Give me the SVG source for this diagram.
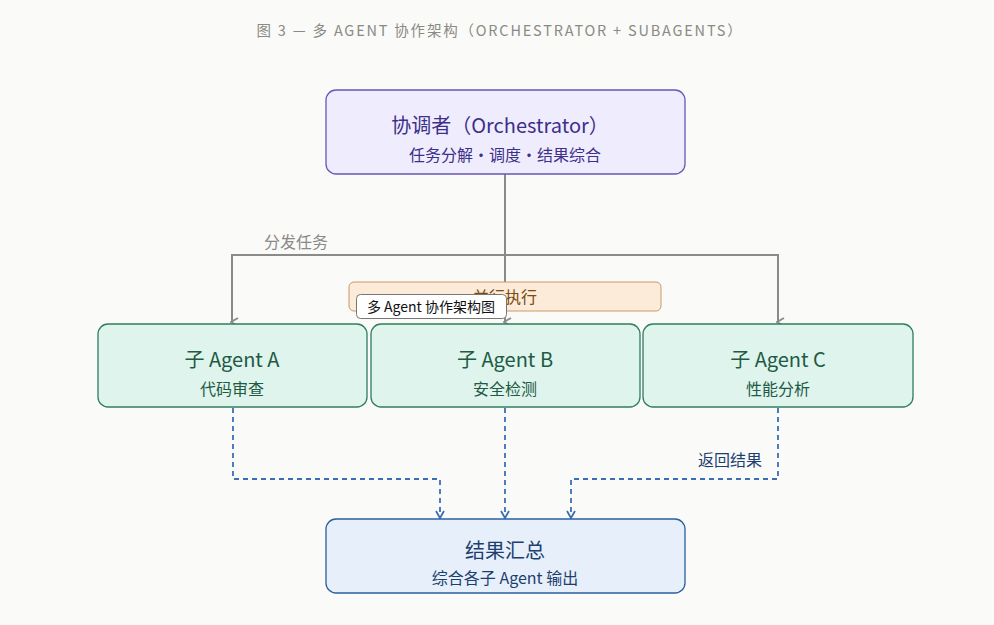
<svg xmlns="http://www.w3.org/2000/svg" width="994" height="625" viewBox="0 0 994 625">
<style>
text{font-family:"Noto Sans CJK SC","Noto Sans",sans-serif;text-anchor:middle}
.t{font-size:20px}.s{font-size:16px}
.ag rect{fill:#def4ec;stroke:#2f7d5f;stroke-width:1.3}
.ag text{fill:#1e5a44}
.solid{fill:none;stroke:#8a8a8a;stroke-width:2}
.dash{fill:none;stroke:#3a6fb5;stroke-width:1.8;stroke-dasharray:5 4}
</style>
<defs>
<marker id="ag" markerWidth="10" markerHeight="10" refX="5" refY="8" orient="auto-start-reverse" markerUnits="userSpaceOnUse" viewBox="0 0 10 10"><path d="M1 2 L5 9 L9 2" fill="none" stroke="#8a8a8a" stroke-width="1.8"/></marker>
<marker id="ab" markerWidth="10" markerHeight="10" refX="5" refY="8" markerUnits="userSpaceOnUse" viewBox="0 0 10 10"><path d="M1 2 L5 9 L9 2" fill="none" stroke="#3a6fb5" stroke-width="1.8"/></marker>
</defs>
<rect width="994" height="625" fill="#fafaf8"/>
<text x="500" y="36" style="font-size:14.5px;letter-spacing:1.8px" fill="#8a8a84">图 3 — 多 AGENT 协作架构（ORCHESTRATOR + SUBAGENTS）</text>
<g id="connectors">
<path class="solid" d="M505 174 V322" marker-end="url(#ag)"/>
<path class="solid" d="M232 322 V255 H778 V322" marker-start="url(#ag)" marker-end="url(#ag)"/>
<text x="296" y="248" class="s" fill="#8a8a8a">分发任务</text>
<path class="dash" d="M233 408 V479 H440 V517" marker-end="url(#ab)"/>
<path class="dash" d="M505 408 V517" marker-end="url(#ab)"/>
<path class="dash" d="M778 408 V479 H571 V517" marker-end="url(#ab)"/>
<text x="730" y="466" class="s" fill="#1d3f70">返回结果</text>
</g>
<g id="parallel">
<rect x="349" y="282" width="312" height="29" rx="5" fill="#fcebd9" stroke="#c99a6a"/>
<text x="505" y="303" class="s" fill="#7a4a10">并行执行</text>
</g>
<g id="orchestrator">
<rect x="326" y="90" width="359" height="84" rx="10" fill="#efedfd" stroke="#6a56b8" stroke-width="1.3"/>
<text x="500" y="133" class="t" fill="#3d2f8a">协调者（Orchestrator）</text>
<text x="505" y="161" class="s" fill="#3d2f8a">任务分解·调度·结果综合</text>
</g>
<g id="agentA" class="ag"><rect x="98" y="324" width="269" height="83" rx="10"/>
<text x="232" y="367" class="t">子 Agent A</text><text x="232" y="395" class="s">代码审查</text></g>
<g id="agentB" class="ag"><rect x="371" y="324" width="269" height="83" rx="10"/>
<text x="505" y="367" class="t">子 Agent B</text><text x="505" y="395" class="s">安全检测</text></g>
<g id="agentC" class="ag"><rect x="643" y="324" width="270" height="83" rx="10"/>
<text x="778" y="367" class="t">子 Agent C</text><text x="778" y="395" class="s">性能分析</text></g>
<g id="result">
<rect x="326" y="519" width="359" height="74" rx="10" fill="#e7f0fa" stroke="#2a5fa0" stroke-width="1.3"/>
<text x="505" y="558" class="t" fill="#1d3f70">结果汇总</text>
<text x="505" y="584" class="s" fill="#1d3f70">综合各子 Agent 输出</text>
</g>
<g id="tooltip">
<rect x="356.500" y="294.500" width="150" height="24" rx="4" fill="#ffffff" stroke="#777"/>
<text x="431" y="312" style="font-size:14px" fill="#111">多 Agent 协作架构图</text>
</g>
</svg>
